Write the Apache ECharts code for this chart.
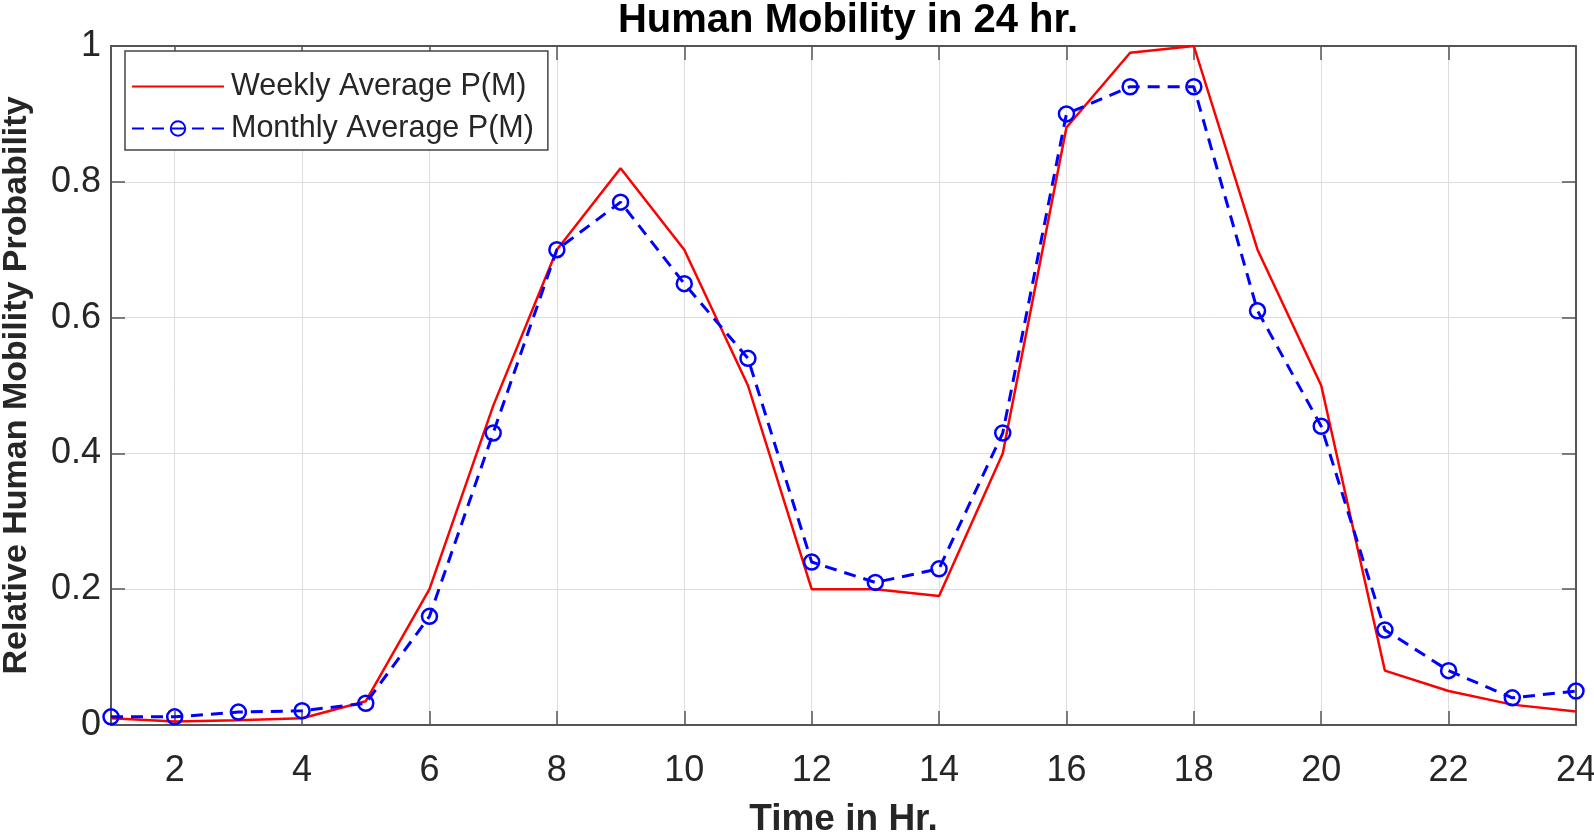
<!DOCTYPE html>
<html>
<head>
<meta charset="utf-8">
<script src="https://cdn.jsdelivr.net/npm/echarts@6/dist/echarts.min.js"></script>
<style>
html,body{margin:0;padding:0;background:#fff;}
#chart{width:1594px;height:835px;}
</style>
</head>
<body>
<div id="chart"></div>
<script>
const hours = [1,2,3,4,5,6,7,8,9,10,11,12,13,14,15,16,17,18,19,20,21,22,23,24];
const weekly = [0.010,0.005,0.007,0.010,0.035,0.20,0.47,0.70,0.82,0.70,0.50,0.20,0.20,0.19,0.40,0.88,0.99,1.00,0.70,0.50,0.08,0.05,0.03,0.02];
const monthly = [0.012,0.012,0.019,0.021,0.032,0.16,0.43,0.70,0.77,0.65,0.54,0.24,0.21,0.23,0.43,0.90,0.94,0.94,0.61,0.44,0.14,0.08,0.04,0.05];
const xTicks = [2,4,6,8,10,12,14,16,18,20,22,24];
const titleText = 'Human Mobility in 24 hr.';
const xName = 'Time in Hr.';
const yName = 'Relative Human Mobility Probability';
const seriesNames = ['Weekly Average P(M)', 'Monthly Average P(M)'];

const FONT = '"Liberation Sans", Arial, Helvetica, sans-serif';
const AXC = '#555555';
const TXT = '#262626';

const chart = echarts.init(document.getElementById('chart'));
const gridLine = {show:true, lineStyle:{color:'#dedede', width:1}};
const tickIn = {show:true, inside:true, length:14, lineStyle:{color:AXC, width:1.5}};

chart.setOption({
  backgroundColor:'#ffffff',
  animation:false,
  title:{
    text:titleText, left:843, textAlign:'center', top:-4,
    textStyle:{fontFamily:FONT, fontWeight:'bold', fontSize:40, color:'#000'}
  },
  legend:{
    orient:'vertical', left:125, top:51,
    padding:[20,14,6,6],
    itemGap:11, itemWidth:92, itemHeight:18,
    backgroundColor:'#ffffff', borderColor:'#444', borderWidth:1.5,
    textStyle:{fontFamily:FONT, fontSize:30.5, color:TXT, padding:[0,0,0,2]},
    data:[{name:seriesNames[0], itemStyle:{opacity:0}}, {name:seriesNames[1]}]
  },
  grid:{left:111, right:18, top:46, bottom:110, containLabel:false, outerBoundsMode:'none'},
  xAxis:[{
    type:'value', min:1, max:24,
    name:xName, nameLocation:'middle', nameGap:76,
    nameTextStyle:{fontFamily:FONT, fontWeight:'bold', fontSize:37, color:TXT},
    axisLine:{show:true, onZero:false, lineStyle:{color:AXC, width:2}},
    axisTick:Object.assign({customValues:xTicks}, tickIn),
    axisLabel:{customValues:xTicks, fontFamily:FONT, fontSize:36, color:TXT, margin:28},
    splitLine:gridLine
  },{
    type:'value', min:1, max:24, position:'top',
    axisLine:{show:true, onZero:false, lineStyle:{color:AXC, width:2}},
    axisTick:Object.assign({customValues:xTicks}, tickIn),
    axisLabel:{show:false, customValues:xTicks},
    splitLine:{show:false}
  }],
  yAxis:[{
    type:'value', min:0, max:1, interval:0.2,
    name:yName, nameLocation:'middle', nameGap:77,
    nameTextStyle:{fontFamily:FONT, fontWeight:'bold', fontSize:34, color:TXT},
    axisLine:{show:true, onZero:false, lineStyle:{color:AXC, width:2}},
    axisTick:tickIn,
    axisLabel:{fontFamily:FONT, fontSize:36, color:TXT, margin:10},
    splitLine:gridLine
  },{
    type:'value', min:0, max:1, interval:0.2, position:'right',
    axisLine:{show:true, onZero:false, lineStyle:{color:AXC, width:2}},
    axisTick:tickIn,
    axisLabel:{show:false},
    splitLine:{show:false}
  }],
  series:[{
    name:seriesNames[0], type:'line',
    xAxisIndex:0, yAxisIndex:0,
    data:hours.map((h,i)=>[h, weekly[i]]),
    symbol:'none',
    color:'#ff0000',
    lineStyle:{color:'#ff0000', width:2.5, type:'solid'},
    z:3
  },{
    name:seriesNames[1], type:'line',
    xAxisIndex:0, yAxisIndex:0,
    data:hours.map((h,i)=>[h, monthly[i]]),
    symbol:'circle', symbolSize:15,
    color:'#0000ff',
    itemStyle:{color:'rgba(0,0,255,0)', borderColor:'#0000ff', borderWidth:2.5},
    lineStyle:{color:'#0000ff', width:3, type:[12,8]},
    z:4
  }]
});
</script>
</body>
</html>
